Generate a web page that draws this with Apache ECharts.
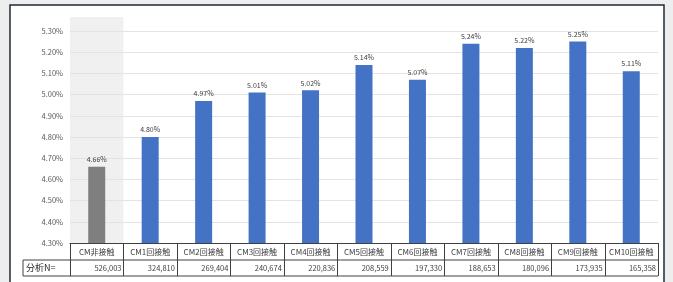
<!DOCTYPE html>
<html>
<head>
<meta charset="utf-8">
<script src="https://cdn.jsdelivr.net/npm/echarts@6/dist/echarts.min.js"></script>
<style>
  html, body { margin: 0; padding: 0; background: #eeeeee; }
  #chart { width: 673px; height: 282px; }
</style>
</head>
<body>
<div id="chart"></div>
<script>
var categories = ['CM非接触', 'CM1回接触', 'CM2回接触', 'CM3回接触', 'CM4回接触', 'CM5回接触',
  'CM6回接触', 'CM7回接触', 'CM8回接触', 'CM9回接触', 'CM10回接触'];
var rates = [4.66, 4.80, 4.97, 5.01, 5.02, 5.14, 5.07, 5.24, 5.22, 5.25, 5.11];
var sampleN = ['526,003', '324,810', '269,404', '240,674', '220,836', '208,559',
  '197,330', '188,653', '180,096', '173,935', '165,358'];
var rowLabel = '分析N=';

var font = "'Noto Sans CJK JP', 'Noto Sans', sans-serif";
var plotL = 70, plotR = 658, plotT = 31, plotB = 243;

var chart = echarts.init(document.getElementById('chart'));

chart.setOption({
  backgroundColor: '#eeeeee',
  animation: false,
  grid: { left: plotL, right: 673 - plotR, top: plotT, bottom: 282 - plotB },
  xAxis: {
    type: 'category',
    data: categories,
    axisLine: { lineStyle: { color: '#404040', width: 1 } },
    axisTick: { show: false },
    axisLabel: { interval: 0, fontSize: 8, color: '#404040', fontFamily: font, margin: 5 }
  },
  yAxis: {
    type: 'value',
    min: 430, max: 530, interval: 10,
    axisLine: { show: false },
    axisTick: { show: false },
    splitLine: { lineStyle: { color: '#e3e3e3' } },
    axisLabel: {
      fontSize: 7.5, color: '#595959', fontFamily: font, margin: 7,
      formatter: function (v) { return (v / 100).toFixed(2) + '%'; }
    }
  },
  series: [{
    type: 'bar',
    barWidth: 17,
    data: rates.map(function (v, i) {
      return { value: Math.round(v * 100), itemStyle: { color: i === 0 ? '#7f7f7f' : '#4472c4' } };
    }),
    label: {
      show: true, position: 'top', distance: 4, fontSize: 7, color: '#404040', fontFamily: font,
      formatter: function (p) { return (p.value / 100).toFixed(2) + '%'; }
    },
    z: 3
  }]
});

// 表とフレームを描く
var band = (plotR - plotL) / categories.length;
var els = [];
els.push({ type: 'rect', shape: { x: 10, y: 5, width: 654, height: 300 },
  style: { fill: '#ffffff', stroke: '#1f2a36', lineWidth: 1.5 }, z: -10 });
els.push({ type: 'rect', shape: { x: plotL, y: 17, width: band, height: plotB - 17 },
  style: { fill: '#f0f0f0' }, z: -5 });
var lineStyle = { stroke: '#404040', lineWidth: 1 };
var y1 = 260, y2 = 276, xl = 23;
els.push({ type: 'line', shape: { x1: xl, y1: y1, x2: plotR, y2: y1 }, style: lineStyle, z: 10 });
els.push({ type: 'line', shape: { x1: xl, y1: y2, x2: plotR, y2: y2 }, style: lineStyle, z: 10 });
els.push({ type: 'line', shape: { x1: xl, y1: y1, x2: xl, y2: y2 }, style: lineStyle, z: 10 });
for (var i = 0; i <= categories.length; i++) {
  var x = Math.round(plotL + i * band) + 0.5;
  els.push({ type: 'line', shape: { x1: x, y1: plotB, x2: x, y2: y2 }, style: lineStyle, z: 10 });
}
els.push({ type: 'text', x: xl + 3, y: (y1 + y2) / 2,
  style: { text: rowLabel, fontSize: 9, fill: '#262626', fontFamily: font, verticalAlign: 'middle' }, z: 10 });
sampleN.forEach(function (n, i) {
  var cx = chart.convertToPixel({ xAxisIndex: 0 }, i);
  els.push({ type: 'text', x: cx + band / 2 - 2, y: (y1 + y2) / 2 + 0.5,
    style: { text: n, fontSize: 7.5, fill: '#404040', fontFamily: font, align: 'right', verticalAlign: 'middle' }, z: 10 });
});
chart.setOption({ graphic: els });
</script>
</body>
</html>
